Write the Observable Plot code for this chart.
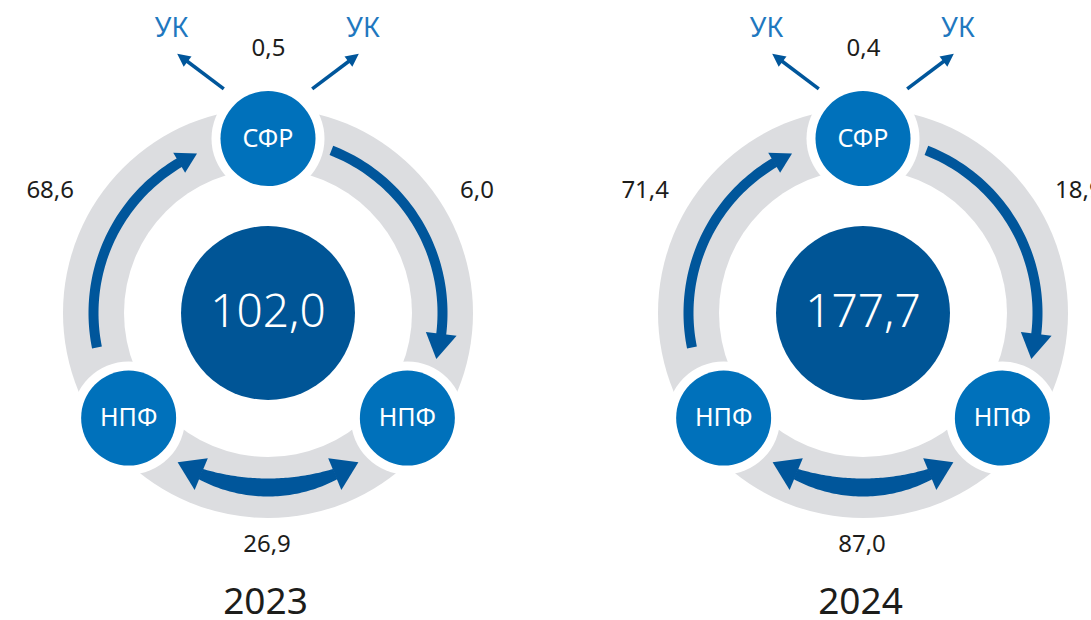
<!DOCTYPE html>
<html>
<head>
<meta charset="utf-8">
<script src="https://cdn.jsdelivr.net/npm/d3@7"></script>
<script src="https://cdn.jsdelivr.net/npm/@observablehq/plot@0.6"></script>
<style>
  html, body { margin: 0; padding: 0; background: #fff; overflow: hidden; }
  #chart svg { display: block; }
</style>
</head>
<body>
<div id="chart"></div>
<script>
// ---- data ----
const years = ["2023", "2024"];
const totals = [102.0, 177.7];       // center value
const sfrToUk = [0.5, 0.4];          // СФР -> УК
const npfToSfr = [68.6, 71.4];       // НПФ -> СФР
const sfrToNpf = [6.0, 18.9];        // СФР -> НПФ
const npfToNpf = [26.9, 87.0];       // НПФ <-> НПФ
const nodeLabels = ["СФР", "НПФ", "НПФ"];
const ukLabel = "УК";

// ---- layout / style constants ----
const W = 1091, H = 620;
const panelX = [267.5, 862.5];
const CY = 312.5;
const R = 174.5;
const nodeAngles = [0, 127, 233];
const gray = "#dcdde0", mid = "#0071bb", dark = "#00569b", darkC = "#005596", ink = "#1d1d1b", ukColor = "#1f78bf";
const FONT = "Noto Sans, Open Sans, sans-serif";
const fmt = v => d3.format(".1f")(v).replace(".", ",");

function pol(cx, ang, r) {
  const a = ang * Math.PI / 180;
  return [cx + r * Math.sin(a), CY - r * Math.cos(a)];
}

const panels = years.map((y, i) => ({year: y, cx: panelX[i], total: totals[i]}));

const nodes = [];
panels.forEach(p => nodeAngles.forEach((a, k) => {
  const [x, y] = pol(p.cx, a, R);
  nodes.push({x, y, label: nodeLabels[k]});
}));

// arrow bodies (polygons) and heads
const polys = [];
let pid = 0;
function arcBody(cx, a0, a1, wFn) {
  const id = pid++, n = 60, outer = [], inner = [];
  for (let i = 0; i <= n; i++) {
    const a = a0 + (a1 - a0) * i / n;
    const t = i / n;
    const w = wFn(t);
    outer.push(pol(cx, a, R + w / 2));
    inner.push(pol(cx, a, R - w / 2));
  }
  outer.concat(inner.reverse()).forEach(([x, y]) => polys.push({id, x, y}));
}
function head(cx, aBase, aTip, hw, rTip = R) {
  const id = pid++;
  [pol(cx, aBase, R - hw), pol(cx, aTip, rTip), pol(cx, aBase, R + hw)]
    .forEach(([x, y]) => polys.push({id, x, y}));
}
const ukLines = [];
function ukArrow(cx, side) {
  const id = pid++;
  const nodeY = CY - R;
  const tail = [cx + side * 44.2, nodeY - 49.7];
  const ang = side * 53.1 * Math.PI / 180;
  const ux = Math.sin(ang), uy = -Math.cos(ang);
  const L = 58.3, hl = 13, hw = 6.5;
  const tip = [tail[0] + ux * L, tail[1] + uy * L];
  const base = [tip[0] - ux * hl, tip[1] - uy * hl];
  ukLines.push({id, x: tail[0], y: tail[1]}, {id, x: base[0] + ux * 1, y: base[1] + uy * 1});
  const hid = pid++;
  [[base[0] - uy * hw, base[1] + ux * hw], tip, [base[0] + uy * hw, base[1] - ux * hw]]
    .forEach(([x, y]) => polys.push({id: hid, x, y}));
}

panels.forEach(p => {
  // НПФ (left) -> СФР
  arcBody(p.cx, 258.6, 329.6, () => 10);
  head(p.cx, 329.4, 336, 11.7);
  // СФР -> НПФ (right)
  arcBody(p.cx, 21.3, 97.1, () => 10);
  head(p.cx, 96.9, 105.3, 15.5);
  // НПФ <-> НПФ (bottom, double)
  arcBody(p.cx, 157.3, 202.7, t => 11 + 7 * (1 - Math.pow(2 * t - 1, 2)));
  head(p.cx, 157.5, 148.8, 17.2);
  head(p.cx, 202.5, 211.2, 17.2);
  // СФР -> УК
  ukArrow(p.cx, -1);
  ukArrow(p.cx, 1);
});

// text labels
const valueLabels = [];
const ukTexts = [];
panels.forEach((p, i) => {
  valueLabels.push({x: p.cx + 0.5, y: 47.5, text: fmt(sfrToUk[i]), anchor: "middle"});
  valueLabels.push({x: p.cx - 194, y: 190, text: fmt(npfToSfr[i]), anchor: "end"});
  valueLabels.push({x: p.cx + 192, y: 190, text: fmt(sfrToNpf[i]), anchor: "start"});
  valueLabels.push({x: p.cx - 1, y: 544, text: fmt(npfToNpf[i]), anchor: "middle"});
  ukTexts.push({x: p.cx - 96.5, y: 28, text: ukLabel});
  ukTexts.push({x: p.cx + 95, y: 28, text: ukLabel});
});

const chart = Plot.plot({
  width: W,
  height: H,
  margin: 0,
  x: {type: "identity", axis: null},
  y: {type: "identity", axis: null},
  style: {fontFamily: FONT, background: "#fff", overflow: "visible"},
  marks: [
    Plot.dot(panels, {x: "cx", y: () => CY, r: 205, fill: gray}),
    Plot.dot(panels, {x: "cx", y: () => CY, r: 144, fill: "white"}),
    Plot.dot(nodes, {x: "x", y: "y", r: 56.5, fill: "white"}),
    Plot.line(polys, {x: "x", y: "y", z: "id", fill: dark, stroke: "none", curve: "linear-closed"}),
    Plot.line(ukLines, {x: "x", y: "y", z: "id", stroke: dark, strokeWidth: 3.5, strokeLinecap: "butt"}),
    Plot.dot(nodes, {x: "x", y: "y", r: 47.5, fill: mid}),
    Plot.dot(panels, {x: "cx", y: () => CY, r: 87, fill: darkC}),
    Plot.text(nodes, {x: "x", y: "y", text: "label", fill: "white", fontSize: 25, fontFamily: FONT}),
    Plot.text(panels, {x: "cx", y: () => CY - 1, text: d => fmt(d.total), fill: "white", fontSize: 46, fontFamily: FONT, fontWeight: 300}),
    Plot.text(valueLabels.filter(d => d.anchor === "middle"), {x: "x", y: "y", text: "text", fill: ink, fontSize: 24, fontFamily: FONT, textAnchor: "middle"}),
    Plot.text(valueLabels.filter(d => d.anchor === "end"), {x: "x", y: "y", text: "text", fill: ink, fontSize: 24, fontFamily: FONT, textAnchor: "end"}),
    Plot.text(valueLabels.filter(d => d.anchor === "start"), {x: "x", y: "y", text: "text", fill: ink, fontSize: 24, fontFamily: FONT, textAnchor: "start"}),
    Plot.text(ukTexts, {x: "x", y: "y", text: "text", fill: ukColor, fontSize: 27, fontFamily: FONT}),
    Plot.text(panels, {x: d => d.cx - 2.5, y: () => 602, text: "year", fill: ink, fontSize: 37, fontFamily: FONT})
  ]
});
document.getElementById("chart").appendChild(chart);
</script>
</body>
</html>
